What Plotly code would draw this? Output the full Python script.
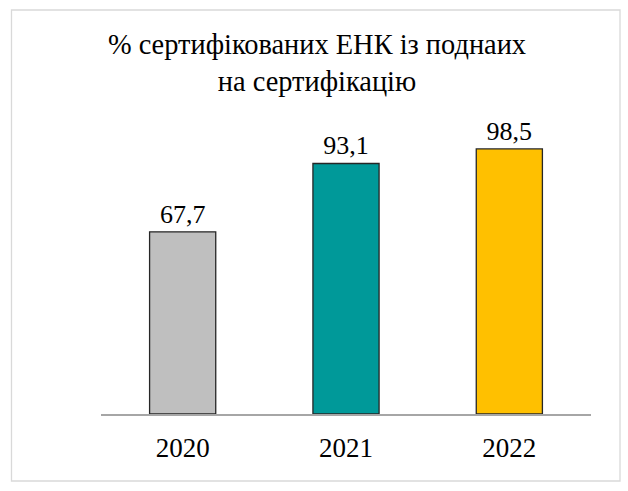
import plotly.graph_objects as go

years = ["2020", "2021", "2022"]
values = [67.7, 93.1, 98.5]
labels = ["67,7", "93,1", "98,5"]
colors = ["#BFBFBF", "#009999", "#FFC000"]
title_text = "% сертифікованих ЕНК із поднаих<br>на сертифікацію"

FONT = "Liberation Serif, Times New Roman, serif"
W, H = 628, 491
L, R, T, B = 101, 37, 118, 77

fig = go.Figure(go.Bar(
    x=years, y=values, text=labels, textposition="outside",
    marker=dict(color=colors, line=dict(color="#262626", width=1.3)),
    textfont=dict(family=FONT, size=26, color="#000000"),
    cliponaxis=False,
))

pw, ph = W - L - R, H - T - B
def px(x):
    return (x - L) / pw
def py(y):
    return (H - B - y) / ph

fig.add_shape(type="rect", xref="paper", yref="paper",
              x0=px(11.5), x1=px(620), y0=py(481), y1=py(10),
              line=dict(color="#D9D9D9", width=1.3), fillcolor="rgba(0,0,0,0)", layer="below")

fig.update_layout(
    width=W, height=H,
    margin=dict(l=L, r=R, t=T, b=B),
    paper_bgcolor="white", plot_bgcolor="white",
    bargap=0.595,
    showlegend=False,
    title=dict(text=title_text, x=317 / W, xanchor="center", y=1 - 54 / H, yanchor="top",
               font=dict(family=FONT, size=28.4, color="#000000")),
    xaxis=dict(showline=True, linecolor="#A6A6A6", linewidth=1.5, ticks="",
               tickfont=dict(family=FONT, size=27, color="#000000"),
               ticklabelstandoff=9,
               showgrid=False, zeroline=False),
    yaxis=dict(range=[0, 110], visible=False, showgrid=False, zeroline=False),
)

fig.write_html("out.html", config={"displayModeBar": False})
with open("out.html", encoding="utf-8") as f:
    html = f.read()
html = html.replace("<body>", "<body style=\"margin:0;padding:0\">", 1)
html = html.replace("<head>", "<head><style>html,body{margin:0;padding:0;}</style>", 1)
with open("out.html", "w", encoding="utf-8") as f:
    f.write(html)
